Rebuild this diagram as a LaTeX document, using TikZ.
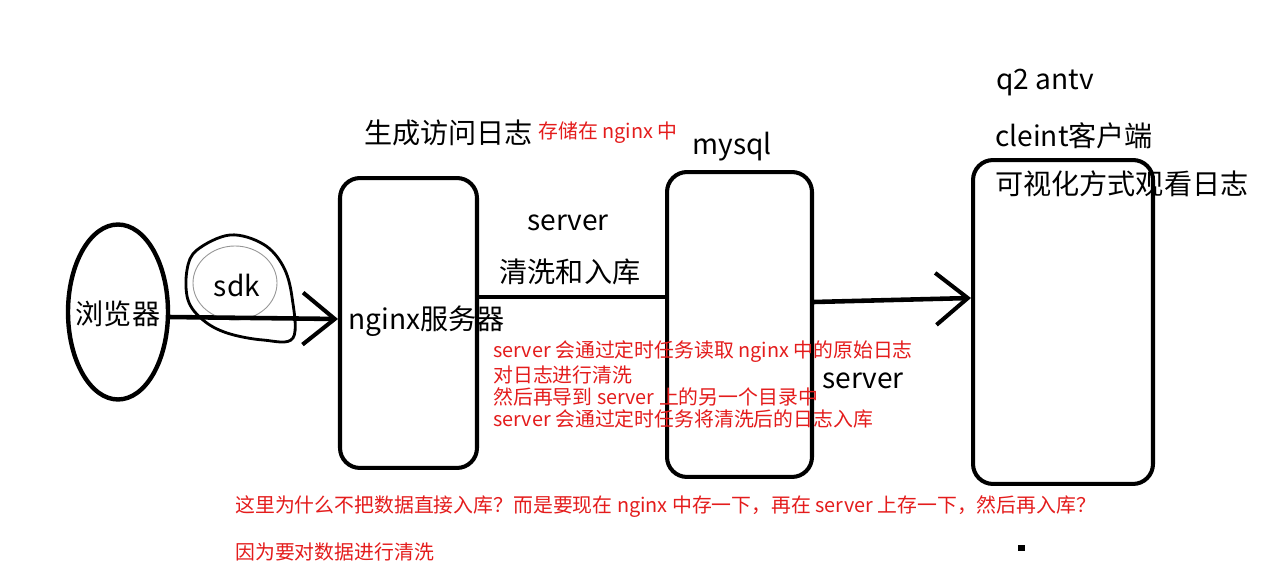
\documentclass[tikz,border=0pt]{standalone}
\usepackage{fontspec}
\setmainfont{Noto Sans CJK SC}
\usetikzlibrary{shapes.geometric,arrows.meta}
\definecolor{redtxt}{RGB}{228,28,28}
\definecolor{graycirc}{RGB}{150,150,150}
\begin{document}
\begin{tikzpicture}[x=0.02cm,y=-0.02cm,
  thick line/.style={line width=2.3pt},
  boxnode/.style={draw,line width=2.3pt,rounded corners=0.4cm,inner sep=0pt},
  bigtxt/.style={inner sep=0pt,font=\fontsize{16}{19}\selectfont},
  redlab/.style={inner sep=0pt,text=redtxt,font=\fontsize{11.3}{13}\selectfont},
  chev/.style={-{Straight Barb[length=0.64cm,width=1.04cm,line width=2.3pt]}}
]
\useasboundingbox (0,0) rectangle (1270,573);
\fill[white] (0,0) rectangle (1270,573);

% browser ellipse
\node[ellipse,draw,line width=2.5pt,minimum width=2cm,minimum height=3.5cm,inner sep=0pt,outer sep=0pt] (browser) at (118,312) {};
\node[bigtxt] (browserlab) at (118,314) {浏览器};

% sdk blob
\draw[line width=1.6pt] plot[smooth cycle,tension=0.6] coordinates
  {(230,235) (263,244) (283,266) (292,297) (293,338) (263,340) (227,333) (203,320) (188,300) (187,270) (197,250)};
\draw[graycirc,line width=0.5pt] (235,283) ellipse (42 and 37);
\node[bigtxt] (sdk) at (237,285) {sdk};

% boxes
\node[boxnode,minimum width=2.74cm,minimum height=5.8cm] (nginx) at (408.5,323) {};
\node[boxnode,minimum width=2.9cm,minimum height=6.1cm] (mysql) at (739.5,324.5) {};
\node[boxnode,minimum width=3.6cm,minimum height=6.48cm] (client) at (1063,322) {};

% texts
\node[bigtxt,anchor=west] (nginxlab) at (348,321) {nginx服务器};
\node[bigtxt,anchor=west] (genlog) at (364,133) {生成访问日志};
\node[redlab,anchor=west] (store) at (538,133) {存储在 nginx 中};
\node[bigtxt] (mysqllab) at (732,147) {mysql};
\node[bigtxt] (server1) at (568,223) {server};
\node[bigtxt] (clean) at (570,272) {清洗和入库};
\node[bigtxt] (server2) at (863,381) {server};
\node[bigtxt,anchor=west] (g2) at (996,83) {q2 antv};
\node[bigtxt,anchor=west] (cl) at (995,136) {cleint客户端};
\node[bigtxt,anchor=west] (vis) at (995,184) {可视化方式观看日志};

\node[redlab,anchor=west] (r1) at (493,352) {server 会通过定时任务读取 nginx 中的原始日志};
\node[redlab,anchor=west] (r2) at (493,375) {对日志进行清洗};
\node[redlab,anchor=west] (r3) at (493,397) {然后再导到 server 上的另一个目录中};
\node[redlab,anchor=west] (r4) at (493,419) {server 会通过定时任务将清洗后的日志入库};

\node[redlab,anchor=west] (q) at (235,507) {这里为什么不把数据直接入库？而是要现在 nginx 中存一下，再在 server 上存一下，然后再入库？};
\node[redlab,anchor=west] (a) at (235,552) {因为要对数据进行清洗};

% dot
\fill (1018,545) rectangle (1025,551);

% connectors
\draw[line width=2.6pt,chev] (browser.east |- 0,317) -- (nginx.west |- 0,319);
\draw[thick line] (nginx.east |- 0,297) -- (mysql.west |- 0,297);
\draw[line width=2.6pt,chev] (mysql.east |- 0,302) -- (client.west |- 0,298);
\end{tikzpicture}
\end{document}
